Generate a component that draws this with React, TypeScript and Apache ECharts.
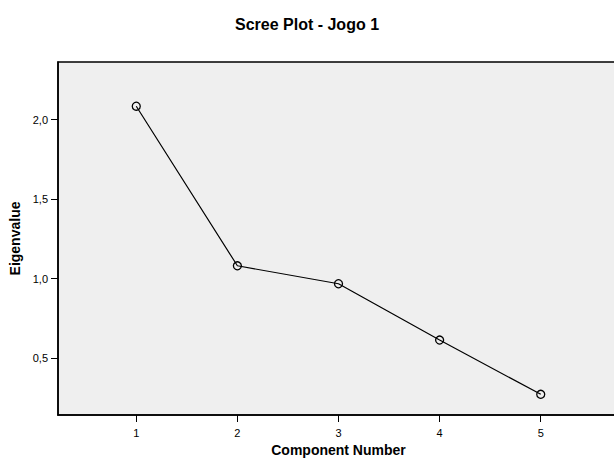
import React, { useEffect, useRef } from "react";
import * as echarts from "echarts";

const components = [1, 2, 3, 4, 5];
const eigenvalues = [2.084, 1.081, 0.968, 0.614, 0.273];
const yTicks = [0.5, 1.0, 1.5, 2.0];
const xTicks = [1, 2, 3, 4, 5];

export default function App() {
  const ref = useRef<HTMLDivElement>(null);
  useEffect(() => {
    if (!ref.current) return;
    const chart = echarts.init(ref.current, null, { renderer: "svg" });
    const font = "Liberation Sans, Arial, Helvetica, sans-serif";
    chart.setOption({
      animation: false,
      backgroundColor: "#ffffff",
      title: {
        text: "Scree Plot - Jogo 1",
        left: "center",
        top: 11,
        textStyle: { fontFamily: font, fontSize: 16, fontWeight: "bold", color: "#000" },
      },
      grid: {
        left: 58,
        top: 62,
        width: 561,
        height: 353,
        outerBoundsMode: "none",
        containLabel: false,
        show: true,
        backgroundColor: "#efefef",
        borderColor: "#000",
        borderWidth: 1.5,
      },
      xAxis: {
        type: "value",
        min: 0.226,
        max: 5.774,
        name: "Component Number",
        nameLocation: "middle",
        nameGap: 28,
        nameTextStyle: { fontFamily: font, fontSize: 14, fontWeight: "bold", color: "#000" },
        axisLine: { show: true, lineStyle: { color: "#000", width: 1.5 } },
        axisTick: { show: true, length: 7, customValues: xTicks, lineStyle: { color: "#000", width: 1 } },
        axisLabel: {
          customValues: xTicks,
          margin: 12,
          fontFamily: font,
          fontSize: 11,
          color: "#000",
        },
        splitLine: { show: false },
      },
      yAxis: {
        type: "value",
        min: 0.143,
        max: 2.362,
        name: "Eigenvalue",
        nameLocation: "middle",
        nameGap: 34,
        nameTextStyle: { fontFamily: font, fontSize: 14, fontWeight: "bold", color: "#000" },
        axisLine: { show: true, lineStyle: { color: "#000", width: 1.5 } },
        axisTick: { show: true, length: 7, customValues: yTicks, lineStyle: { color: "#000", width: 1 } },
        axisLabel: {
          customValues: yTicks,
          margin: 10,
          fontFamily: font,
          fontSize: 11,
          color: "#000",
          formatter: (v: number) => v.toFixed(1).replace(".", ","),
        },
        splitLine: { show: false },
      },
      series: [
        {
          type: "line",
          data: components.map((c, i) => [c, eigenvalues[i]]),
          symbol: "circle",
          symbolSize: 8,
          lineStyle: { color: "#000", width: 1.2 },
          itemStyle: { color: "rgba(0,0,0,0)", borderColor: "#000", borderWidth: 1.3 },
          z: 3,
        },
      ],
    });
    return () => chart.dispose();
  }, []);
  return (
    <div
      ref={ref}
      style={{ position: "fixed", left: 0, top: 0, width: 614, height: 463 }}
    />
  );
}
